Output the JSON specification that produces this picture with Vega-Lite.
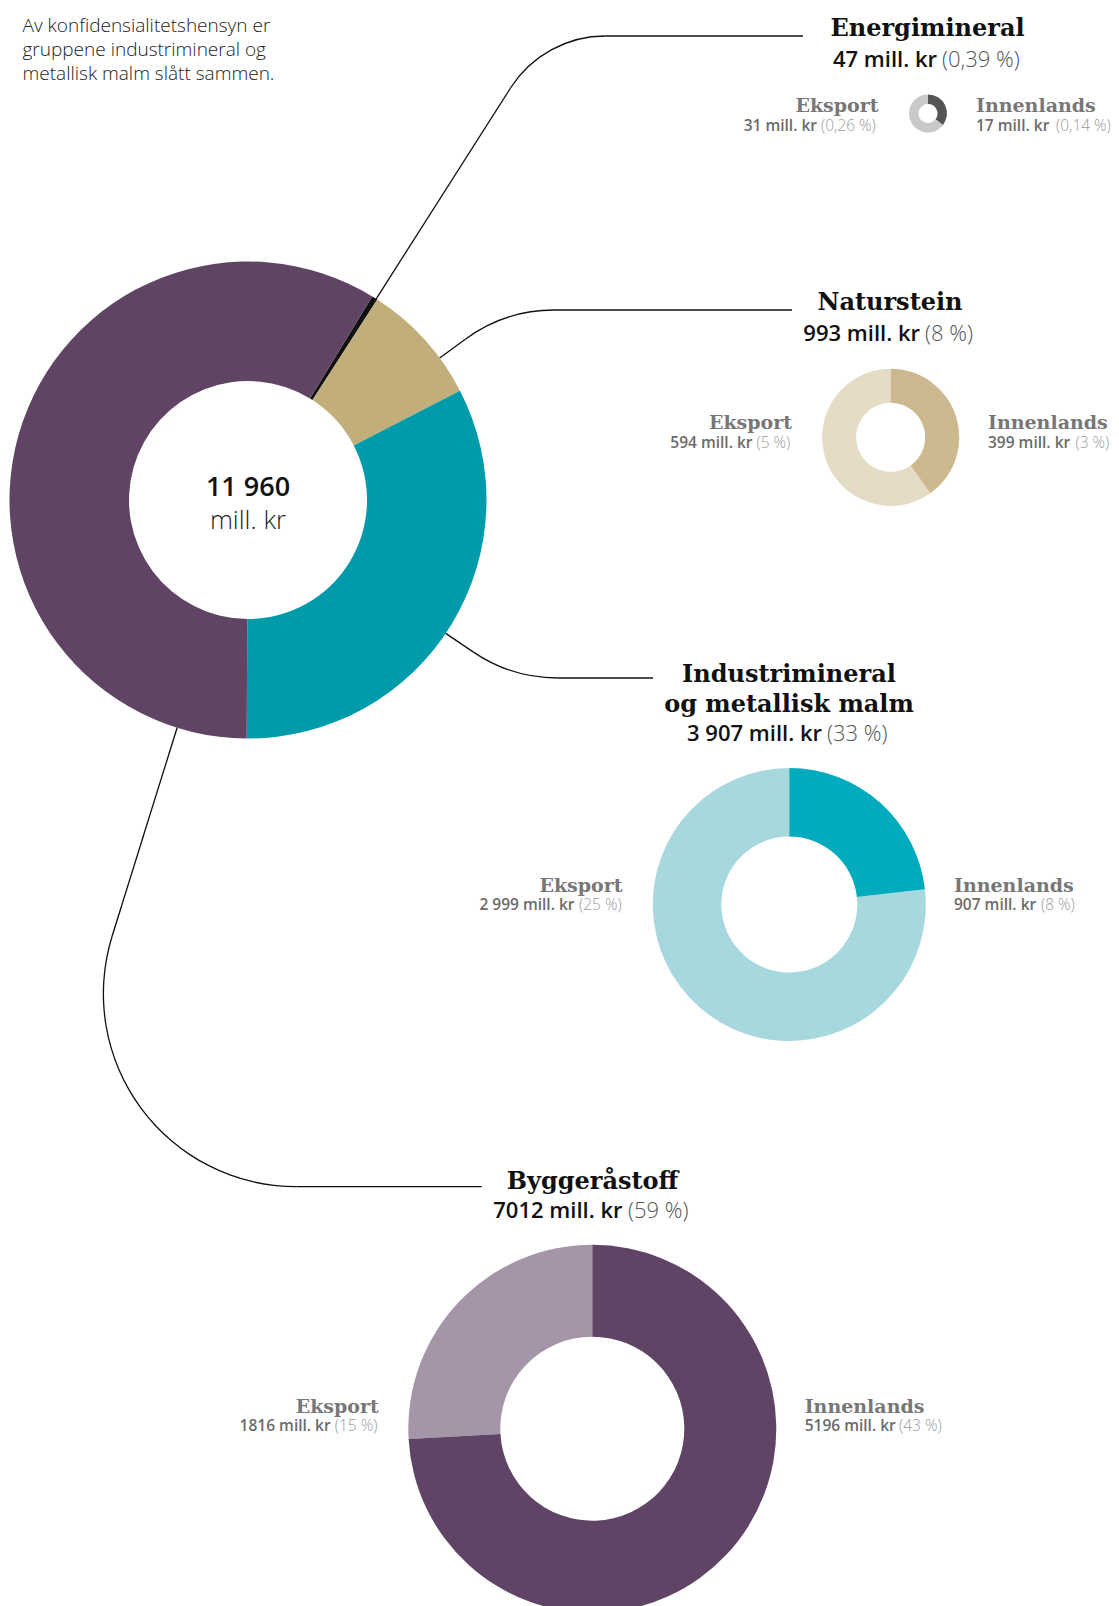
{
"$schema": "https://vega.github.io/schema/vega-lite/v6.json",
"width": 1119, "height": 1606, "padding": 0, "autosize": {"type": "none"},
"background": "white",
"config": {"view": {"stroke": null}},
"datasets": {
 "groups": [
  {"group": "Energimineral", "title": "Energimineral", "value": 47, "amount": "47 mill. kr", "share": "(0,39 %)"},
  {"group": "Naturstein", "title": "Naturstein", "value": 993, "amount": "993 mill. kr", "share": "(8 %)"},
  {"group": "Industrimineral og metallisk malm", "title": "Industrimineral\nog metallisk malm", "value": 3907, "amount": "3 907 mill. kr", "share": "(33 %)"},
  {"group": "Byggeråstoff", "title": "Byggeråstoff", "value": 7012, "amount": "7012 mill. kr", "share": "(59 %)"}
 ],
 "parts": [
  {"group": "Energimineral", "part": "Eksport", "value": 31, "amount": "31 mill. kr", "share": "(0,26 %)"},
  {"group": "Energimineral", "part": "Innenlands", "value": 17, "amount": "17 mill. kr", "share": "(0,14 %)"},
  {"group": "Naturstein", "part": "Eksport", "value": 594, "amount": "594 mill. kr", "share": "(5 %)"},
  {"group": "Naturstein", "part": "Innenlands", "value": 399, "amount": "399 mill. kr", "share": "(3 %)"},
  {"group": "Industrimineral og metallisk malm", "part": "Eksport", "value": 2999, "amount": "2 999 mill. kr", "share": "(25 %)"},
  {"group": "Industrimineral og metallisk malm", "part": "Innenlands", "value": 907, "amount": "907 mill. kr", "share": "(8 %)"},
  {"group": "Byggeråstoff", "part": "Eksport", "value": 1816, "amount": "1816 mill. kr", "share": "(15 %)"},
  {"group": "Byggeråstoff", "part": "Innenlands", "value": 5196, "amount": "5196 mill. kr", "share": "(43 %)"}
 ],
 "total": [{"amount": "11 960", "unit": "mill. kr"}],
 "note": [{"text": "Av konfidensialitetshensyn er\ngruppene industrimineral og\nmetallisk malm slått sammen."}]
},
"layer": [
 {"data": {"name": "groups"}, "transform": [{"calculate": "indexof(['Energimineral','Naturstein','Industrimineral og metallisk malm','Byggeråstoff'], datum.group)", "as": "rank"}],
  "mark": {"type": "arc", "innerRadius": 119, "outerRadius": 238.5},
  "encoding": {"x": {"datum": 248, "type": "quantitative", "scale": {"domain": [0, 1119], "nice": false, "zero": false}, "axis": null}, "y": {"datum": 500, "type": "quantitative", "scale": {"domain": [0, 1606], "nice": false, "zero": false, "reverse": true}, "axis": null},
   "theta": {"field": "value", "type": "quantitative", "stack": true, "scale": {"range": [0.548, 6.8312]}},
   "order": {"field": "rank", "type": "quantitative"},
   "color": {"field": "group", "type": "nominal", "scale": {"domain": ["Energimineral", "Naturstein", "Industrimineral og metallisk malm", "Byggeråstoff"], "range": ["#111111", "#c2ae7a", "#009bab", "#5f4463"]}, "legend": null}}},
 {"data": {"name": "parts"}, "transform": [{"filter": "datum.group == 'Energimineral'"}],
  "mark": {"type": "arc", "innerRadius": 9.5, "outerRadius": 19},
  "encoding": {"x": {"datum": 928, "type": "quantitative", "scale": {"domain": [0, 1119], "nice": false, "zero": false}, "axis": null}, "y": {"datum": 113.5, "type": "quantitative", "scale": {"domain": [0, 1606], "nice": false, "zero": false, "reverse": true}, "axis": null},
   "theta": {"field": "value", "type": "quantitative", "stack": true},
   "order": {"field": "part", "sort": "descending"},
   "color": {"field": "part", "type": "nominal", "scale": {"domain": ["Innenlands", "Eksport"], "range": ["#555555", "#c9c9c9"]}, "legend": null}}},
 {"data": {"name": "parts"}, "transform": [{"filter": "datum.group == 'Naturstein'"}],
  "mark": {"type": "arc", "innerRadius": 34.5, "outerRadius": 68.6},
  "encoding": {"x": {"datum": 890.7, "type": "quantitative", "scale": {"domain": [0, 1119], "nice": false, "zero": false}, "axis": null}, "y": {"datum": 437.3, "type": "quantitative", "scale": {"domain": [0, 1606], "nice": false, "zero": false, "reverse": true}, "axis": null},
   "theta": {"field": "value", "type": "quantitative", "stack": true},
   "order": {"field": "part", "sort": "descending"},
   "color": {"field": "part", "type": "nominal", "scale": {"domain": ["Innenlands", "Eksport"], "range": ["#ccb98f", "#e5dcc6"]}, "legend": null}}},
 {"data": {"name": "parts"}, "transform": [{"filter": "datum.group == 'Industrimineral og metallisk malm'"}],
  "mark": {"type": "arc", "innerRadius": 68, "outerRadius": 136.5},
  "encoding": {"x": {"datum": 789.3, "type": "quantitative", "scale": {"domain": [0, 1119], "nice": false, "zero": false}, "axis": null}, "y": {"datum": 904.5, "type": "quantitative", "scale": {"domain": [0, 1606], "nice": false, "zero": false, "reverse": true}, "axis": null},
   "theta": {"field": "value", "type": "quantitative", "stack": true},
   "order": {"field": "part", "sort": "descending"},
   "color": {"field": "part", "type": "nominal", "scale": {"domain": ["Innenlands", "Eksport"], "range": ["#00abbd", "#a6d8de"]}, "legend": null}}},
 {"data": {"name": "parts"}, "transform": [{"filter": "datum.group == 'Byggeråstoff'"}],
  "mark": {"type": "arc", "innerRadius": 92, "outerRadius": 184},
  "encoding": {"x": {"datum": 592.3, "type": "quantitative", "scale": {"domain": [0, 1119], "nice": false, "zero": false}, "axis": null}, "y": {"datum": 1428.7, "type": "quantitative", "scale": {"domain": [0, 1606], "nice": false, "zero": false, "reverse": true}, "axis": null},
   "theta": {"field": "value", "type": "quantitative", "stack": true},
   "order": {"field": "part", "sort": "descending"},
   "color": {"field": "part", "type": "nominal", "scale": {"domain": ["Innenlands", "Eksport"], "range": ["#5f4465", "#a495a8"]}, "legend": null}}},

 {"data": {"name": "groups"}, "transform": [{"filter": "datum.group == 'Energimineral'"}], "mark": {"type": "rule", "color": "#111", "strokeWidth": 1.3},
  "encoding": {"x": {"datum": 375.9, "type": "quantitative", "scale": {"domain": [0, 1119], "nice": false, "zero": false}, "axis": null}, "y": {"datum": 299.3, "type": "quantitative", "scale": {"domain": [0, 1606], "nice": false, "zero": false, "reverse": true}, "axis": null}, "x2": {"datum": 510.5}, "y2": {"datum": 88}}},
 {"data": {"name": "groups"}, "transform": [{"filter": "datum.group == 'Energimineral'"}], "mark": {"type": "arc", "innerRadius": 111.75, "outerRadius": 113.05, "theta": -1.0036, "theta2": 0, "color": "#111"},
  "encoding": {"x": {"datum": 605.3, "type": "quantitative", "scale": {"domain": [0, 1119], "nice": false, "zero": false}, "axis": null}, "y": {"datum": 148.4, "type": "quantitative", "scale": {"domain": [0, 1606], "nice": false, "zero": false, "reverse": true}, "axis": null}}},
 {"data": {"name": "groups"}, "transform": [{"filter": "datum.group == 'Energimineral'"}], "mark": {"type": "rule", "color": "#111", "strokeWidth": 1.3},
  "encoding": {"x": {"datum": 605.3, "type": "quantitative", "scale": {"domain": [0, 1119], "nice": false, "zero": false}, "axis": null}, "y": {"datum": 36, "type": "quantitative", "scale": {"domain": [0, 1606], "nice": false, "zero": false, "reverse": true}, "axis": null}, "x2": {"datum": 803}, "y2": {"datum": 36}}},

 {"data": {"name": "groups"}, "transform": [{"filter": "datum.group == 'Naturstein'"}], "mark": {"type": "rule", "color": "#111", "strokeWidth": 1.3},
  "encoding": {"x": {"datum": 439.7, "type": "quantitative", "scale": {"domain": [0, 1119], "nice": false, "zero": false}, "axis": null}, "y": {"datum": 358.1, "type": "quantitative", "scale": {"domain": [0, 1606], "nice": false, "zero": false, "reverse": true}, "axis": null}, "x2": {"datum": 465.0}, "y2": {"datum": 339.4}}},
 {"data": {"name": "groups"}, "transform": [{"filter": "datum.group == 'Naturstein'"}], "mark": {"type": "arc", "innerRadius": 149.35, "outerRadius": 150.65, "theta": -0.637, "theta2": 0, "color": "#111"},
  "encoding": {"x": {"datum": 554.2, "type": "quantitative", "scale": {"domain": [0, 1119], "nice": false, "zero": false}, "axis": null}, "y": {"datum": 460.0, "type": "quantitative", "scale": {"domain": [0, 1606], "nice": false, "zero": false, "reverse": true}, "axis": null}}},
 {"data": {"name": "groups"}, "transform": [{"filter": "datum.group == 'Naturstein'"}], "mark": {"type": "rule", "color": "#111", "strokeWidth": 1.3},
  "encoding": {"x": {"datum": 554.2, "type": "quantitative", "scale": {"domain": [0, 1119], "nice": false, "zero": false}, "axis": null}, "y": {"datum": 310, "type": "quantitative", "scale": {"domain": [0, 1606], "nice": false, "zero": false, "reverse": true}, "axis": null}, "x2": {"datum": 792}, "y2": {"datum": 310}}},

 {"data": {"name": "groups"}, "transform": [{"filter": "datum.group == 'Industrimineral og metallisk malm'"}], "mark": {"type": "rule", "color": "#111", "strokeWidth": 1.3},
  "encoding": {"x": {"datum": 445.7, "type": "quantitative", "scale": {"domain": [0, 1119], "nice": false, "zero": false}, "axis": null}, "y": {"datum": 633.4, "type": "quantitative", "scale": {"domain": [0, 1606], "nice": false, "zero": false, "reverse": true}, "axis": null}, "x2": {"datum": 473.8}, "y2": {"datum": 652.35}}},
 {"data": {"name": "groups"}, "transform": [{"filter": "datum.group == 'Industrimineral og metallisk malm'"}], "mark": {"type": "arc", "innerRadius": 149.35, "outerRadius": 150.65, "theta": 3.1416, "theta2": 3.735, "color": "#111"},
  "encoding": {"x": {"datum": 557.7, "type": "quantitative", "scale": {"domain": [0, 1119], "nice": false, "zero": false}, "axis": null}, "y": {"datum": 528, "type": "quantitative", "scale": {"domain": [0, 1606], "nice": false, "zero": false, "reverse": true}, "axis": null}}},
 {"data": {"name": "groups"}, "transform": [{"filter": "datum.group == 'Industrimineral og metallisk malm'"}], "mark": {"type": "rule", "color": "#111", "strokeWidth": 1.3},
  "encoding": {"x": {"datum": 557.7, "type": "quantitative", "scale": {"domain": [0, 1119], "nice": false, "zero": false}, "axis": null}, "y": {"datum": 678, "type": "quantitative", "scale": {"domain": [0, 1606], "nice": false, "zero": false, "reverse": true}, "axis": null}, "x2": {"datum": 653}, "y2": {"datum": 678}}},

 {"data": {"name": "groups"}, "transform": [{"filter": "datum.group == 'Byggeråstoff'"}], "mark": {"type": "rule", "color": "#111", "strokeWidth": 1.3},
  "encoding": {"x": {"datum": 177.1, "type": "quantitative", "scale": {"domain": [0, 1119], "nice": false, "zero": false}, "axis": null}, "y": {"datum": 727.7, "type": "quantitative", "scale": {"domain": [0, 1606], "nice": false, "zero": false, "reverse": true}, "axis": null}, "x2": {"datum": 112.1}, "y2": {"datum": 936.3}}},
 {"data": {"name": "groups"}, "transform": [{"filter": "datum.group == 'Byggeråstoff'"}], "mark": {"type": "arc", "innerRadius": 192.35, "outerRadius": 193.65, "theta": -3.1416, "theta2": -1.2689, "color": "#111"},
  "encoding": {"x": {"datum": 296.4, "type": "quantitative", "scale": {"domain": [0, 1119], "nice": false, "zero": false}, "axis": null}, "y": {"datum": 993.7, "type": "quantitative", "scale": {"domain": [0, 1606], "nice": false, "zero": false, "reverse": true}, "axis": null}}},
 {"data": {"name": "groups"}, "transform": [{"filter": "datum.group == 'Byggeråstoff'"}], "mark": {"type": "rule", "color": "#111", "strokeWidth": 1.3},
  "encoding": {"x": {"datum": 296.4, "type": "quantitative", "scale": {"domain": [0, 1119], "nice": false, "zero": false}, "axis": null}, "y": {"datum": 1186.7, "type": "quantitative", "scale": {"domain": [0, 1606], "nice": false, "zero": false, "reverse": true}, "axis": null}, "x2": {"datum": 481.7}, "y2": {"datum": 1186.7}}},

 {"data": {"name": "note"}, "mark": {"type": "text", "font": "Open Sans", "fontSize": 19, "fontWeight": 300, "color": "#222", "align": "left", "baseline": "alphabetic", "lineBreak": "\n", "lineHeight": 24},
  "encoding": {"x": {"datum": 22.5, "type": "quantitative", "scale": {"domain": [0, 1119], "nice": false, "zero": false}, "axis": null}, "y": {"datum": 32, "type": "quantitative", "scale": {"domain": [0, 1606], "nice": false, "zero": false, "reverse": true}, "axis": null}, "text": {"field": "text"}}},
 {"data": {"name": "total"}, "mark": {"type": "text", "font": "Open Sans", "fontSize": 27, "fontWeight": 600, "color": "#111", "align": "center", "baseline": "alphabetic"},
  "encoding": {"x": {"datum": 248, "type": "quantitative", "scale": {"domain": [0, 1119], "nice": false, "zero": false}, "axis": null}, "y": {"datum": 496, "type": "quantitative", "scale": {"domain": [0, 1606], "nice": false, "zero": false, "reverse": true}, "axis": null}, "text": {"field": "amount"}}},
 {"data": {"name": "total"}, "mark": {"type": "text", "font": "Open Sans", "fontSize": 26, "fontWeight": 300, "color": "#222", "align": "center", "baseline": "alphabetic"},
  "encoding": {"x": {"datum": 248, "type": "quantitative", "scale": {"domain": [0, 1119], "nice": false, "zero": false}, "axis": null}, "y": {"datum": 528.5, "type": "quantitative", "scale": {"domain": [0, 1606], "nice": false, "zero": false, "reverse": true}, "axis": null}, "text": {"field": "unit"}}},

 {"data": {"name": "groups"}, "transform": [{"filter": "datum.group == 'Energimineral'"}], "mark": {"type": "text", "font": "DejaVu Serif", "fontSize": 24, "fontWeight": "bold", "color": "#111", "align": "center", "baseline": "alphabetic", "lineBreak": "\n"},
  "encoding": {"x": {"datum": 927.5, "type": "quantitative", "scale": {"domain": [0, 1119], "nice": false, "zero": false}, "axis": null}, "y": {"datum": 36, "type": "quantitative", "scale": {"domain": [0, 1606], "nice": false, "zero": false, "reverse": true}, "axis": null}, "text": {"field": "title"}}},
 {"data": {"name": "groups"}, "transform": [{"filter": "datum.group == 'Naturstein'"}], "mark": {"type": "text", "font": "DejaVu Serif", "fontSize": 24, "fontWeight": "bold", "color": "#111", "align": "center", "baseline": "alphabetic", "lineBreak": "\n"},
  "encoding": {"x": {"datum": 890, "type": "quantitative", "scale": {"domain": [0, 1119], "nice": false, "zero": false}, "axis": null}, "y": {"datum": 310, "type": "quantitative", "scale": {"domain": [0, 1606], "nice": false, "zero": false, "reverse": true}, "axis": null}, "text": {"field": "title"}}},
 {"data": {"name": "groups"}, "transform": [{"filter": "datum.group == 'Industrimineral og metallisk malm'"}], "mark": {"type": "text", "font": "DejaVu Serif", "fontSize": 24, "fontWeight": "bold", "color": "#111", "align": "center", "baseline": "alphabetic", "lineBreak": "\n", "lineHeight": 30.5},
  "encoding": {"x": {"datum": 789, "type": "quantitative", "scale": {"domain": [0, 1119], "nice": false, "zero": false}, "axis": null}, "y": {"datum": 681.5, "type": "quantitative", "scale": {"domain": [0, 1606], "nice": false, "zero": false, "reverse": true}, "axis": null}, "text": {"field": "title"}}},
 {"data": {"name": "groups"}, "transform": [{"filter": "datum.group == 'Byggeråstoff'"}], "mark": {"type": "text", "font": "DejaVu Serif", "fontSize": 24, "fontWeight": "bold", "color": "#111", "align": "center", "baseline": "alphabetic", "lineBreak": "\n"},
  "encoding": {"x": {"datum": 592.5, "type": "quantitative", "scale": {"domain": [0, 1119], "nice": false, "zero": false}, "axis": null}, "y": {"datum": 1188.5, "type": "quantitative", "scale": {"domain": [0, 1606], "nice": false, "zero": false, "reverse": true}, "axis": null}, "text": {"field": "title"}}},

 {"data": {"name": "groups"}, "transform": [{"filter": "datum.group == 'Energimineral'"}], "mark": {"type": "text", "font": "Open Sans", "fontSize": 22, "fontWeight": 600, "color": "#111", "align": "right", "baseline": "alphabetic"},
  "encoding": {"x": {"datum": 937, "type": "quantitative", "scale": {"domain": [0, 1119], "nice": false, "zero": false}, "axis": null}, "y": {"datum": 67, "type": "quantitative", "scale": {"domain": [0, 1606], "nice": false, "zero": false, "reverse": true}, "axis": null}, "text": {"field": "amount"}}},
 {"data": {"name": "groups"}, "transform": [{"filter": "datum.group == 'Energimineral'"}], "mark": {"type": "text", "font": "Open Sans", "fontSize": 22, "fontWeight": 300, "color": "#555", "align": "left", "baseline": "alphabetic"},
  "encoding": {"x": {"datum": 942, "type": "quantitative", "scale": {"domain": [0, 1119], "nice": false, "zero": false}, "axis": null}, "y": {"datum": 67, "type": "quantitative", "scale": {"domain": [0, 1606], "nice": false, "zero": false, "reverse": true}, "axis": null}, "text": {"field": "share"}}},
 {"data": {"name": "groups"}, "transform": [{"filter": "datum.group == 'Naturstein'"}], "mark": {"type": "text", "font": "Open Sans", "fontSize": 22, "fontWeight": 600, "color": "#111", "align": "right", "baseline": "alphabetic"},
  "encoding": {"x": {"datum": 920, "type": "quantitative", "scale": {"domain": [0, 1119], "nice": false, "zero": false}, "axis": null}, "y": {"datum": 341, "type": "quantitative", "scale": {"domain": [0, 1606], "nice": false, "zero": false, "reverse": true}, "axis": null}, "text": {"field": "amount"}}},
 {"data": {"name": "groups"}, "transform": [{"filter": "datum.group == 'Naturstein'"}], "mark": {"type": "text", "font": "Open Sans", "fontSize": 22, "fontWeight": 300, "color": "#555", "align": "left", "baseline": "alphabetic"},
  "encoding": {"x": {"datum": 925, "type": "quantitative", "scale": {"domain": [0, 1119], "nice": false, "zero": false}, "axis": null}, "y": {"datum": 341, "type": "quantitative", "scale": {"domain": [0, 1606], "nice": false, "zero": false, "reverse": true}, "axis": null}, "text": {"field": "share"}}},
 {"data": {"name": "groups"}, "transform": [{"filter": "datum.group == 'Industrimineral og metallisk malm'"}], "mark": {"type": "text", "font": "Open Sans", "fontSize": 22, "fontWeight": 600, "color": "#111", "align": "right", "baseline": "alphabetic"},
  "encoding": {"x": {"datum": 822, "type": "quantitative", "scale": {"domain": [0, 1119], "nice": false, "zero": false}, "axis": null}, "y": {"datum": 741, "type": "quantitative", "scale": {"domain": [0, 1606], "nice": false, "zero": false, "reverse": true}, "axis": null}, "text": {"field": "amount"}}},
 {"data": {"name": "groups"}, "transform": [{"filter": "datum.group == 'Industrimineral og metallisk malm'"}], "mark": {"type": "text", "font": "Open Sans", "fontSize": 22, "fontWeight": 300, "color": "#555", "align": "left", "baseline": "alphabetic"},
  "encoding": {"x": {"datum": 827, "type": "quantitative", "scale": {"domain": [0, 1119], "nice": false, "zero": false}, "axis": null}, "y": {"datum": 741, "type": "quantitative", "scale": {"domain": [0, 1606], "nice": false, "zero": false, "reverse": true}, "axis": null}, "text": {"field": "share"}}},
 {"data": {"name": "groups"}, "transform": [{"filter": "datum.group == 'Byggeråstoff'"}], "mark": {"type": "text", "font": "Open Sans", "fontSize": 22, "fontWeight": 600, "color": "#111", "align": "right", "baseline": "alphabetic"},
  "encoding": {"x": {"datum": 622.5, "type": "quantitative", "scale": {"domain": [0, 1119], "nice": false, "zero": false}, "axis": null}, "y": {"datum": 1218, "type": "quantitative", "scale": {"domain": [0, 1606], "nice": false, "zero": false, "reverse": true}, "axis": null}, "text": {"field": "amount"}}},
 {"data": {"name": "groups"}, "transform": [{"filter": "datum.group == 'Byggeråstoff'"}], "mark": {"type": "text", "font": "Open Sans", "fontSize": 22, "fontWeight": 300, "color": "#555", "align": "left", "baseline": "alphabetic"},
  "encoding": {"x": {"datum": 628, "type": "quantitative", "scale": {"domain": [0, 1119], "nice": false, "zero": false}, "axis": null}, "y": {"datum": 1218, "type": "quantitative", "scale": {"domain": [0, 1606], "nice": false, "zero": false, "reverse": true}, "axis": null}, "text": {"field": "share"}}},

 {"data": {"name": "parts"}, "transform": [{"filter": "datum.group == 'Energimineral' && datum.part == 'Eksport'"}], "mark": {"type": "text", "font": "DejaVu Serif", "fontSize": 19, "fontWeight": "bold", "color": "#777", "align": "right", "baseline": "alphabetic"},
  "encoding": {"x": {"datum": 878.5, "type": "quantitative", "scale": {"domain": [0, 1119], "nice": false, "zero": false}, "axis": null}, "y": {"datum": 111.7, "type": "quantitative", "scale": {"domain": [0, 1606], "nice": false, "zero": false, "reverse": true}, "axis": null}, "text": {"field": "part"}}},
 {"data": {"name": "parts"}, "transform": [{"filter": "datum.group == 'Energimineral' && datum.part == 'Eksport'"}], "mark": {"type": "text", "font": "Open Sans", "fontSize": 15.5, "fontWeight": 600, "color": "#6b6b6b", "align": "right", "baseline": "alphabetic"},
  "encoding": {"x": {"datum": 817, "type": "quantitative", "scale": {"domain": [0, 1119], "nice": false, "zero": false}, "axis": null}, "y": {"datum": 130.5, "type": "quantitative", "scale": {"domain": [0, 1606], "nice": false, "zero": false, "reverse": true}, "axis": null}, "text": {"field": "amount"}}},
 {"data": {"name": "parts"}, "transform": [{"filter": "datum.group == 'Energimineral' && datum.part == 'Eksport'"}], "mark": {"type": "text", "font": "Open Sans", "fontSize": 15.5, "fontWeight": 300, "color": "#9b9b9b", "align": "left", "baseline": "alphabetic"},
  "encoding": {"x": {"datum": 821, "type": "quantitative", "scale": {"domain": [0, 1119], "nice": false, "zero": false}, "axis": null}, "y": {"datum": 130.5, "type": "quantitative", "scale": {"domain": [0, 1606], "nice": false, "zero": false, "reverse": true}, "axis": null}, "text": {"field": "share"}}},
 {"data": {"name": "parts"}, "transform": [{"filter": "datum.group == 'Energimineral' && datum.part == 'Innenlands'"}], "mark": {"type": "text", "font": "DejaVu Serif", "fontSize": 19, "fontWeight": "bold", "color": "#777", "align": "left", "baseline": "alphabetic"},
  "encoding": {"x": {"datum": 976, "type": "quantitative", "scale": {"domain": [0, 1119], "nice": false, "zero": false}, "axis": null}, "y": {"datum": 111.7, "type": "quantitative", "scale": {"domain": [0, 1606], "nice": false, "zero": false, "reverse": true}, "axis": null}, "text": {"field": "part"}}},
 {"data": {"name": "parts"}, "transform": [{"filter": "datum.group == 'Energimineral' && datum.part == 'Innenlands'"}], "mark": {"type": "text", "font": "Open Sans", "fontSize": 15.5, "fontWeight": 600, "color": "#6b6b6b", "align": "left", "baseline": "alphabetic"},
  "encoding": {"x": {"datum": 976, "type": "quantitative", "scale": {"domain": [0, 1119], "nice": false, "zero": false}, "axis": null}, "y": {"datum": 130.5, "type": "quantitative", "scale": {"domain": [0, 1606], "nice": false, "zero": false, "reverse": true}, "axis": null}, "text": {"field": "amount"}}},
 {"data": {"name": "parts"}, "transform": [{"filter": "datum.group == 'Energimineral' && datum.part == 'Innenlands'"}], "mark": {"type": "text", "font": "Open Sans", "fontSize": 15.5, "fontWeight": 300, "color": "#9b9b9b", "align": "left", "baseline": "alphabetic"},
  "encoding": {"x": {"datum": 1056, "type": "quantitative", "scale": {"domain": [0, 1119], "nice": false, "zero": false}, "axis": null}, "y": {"datum": 130.5, "type": "quantitative", "scale": {"domain": [0, 1606], "nice": false, "zero": false, "reverse": true}, "axis": null}, "text": {"field": "share"}}},

 {"data": {"name": "parts"}, "transform": [{"filter": "datum.group == 'Naturstein' && datum.part == 'Eksport'"}], "mark": {"type": "text", "font": "DejaVu Serif", "fontSize": 19, "fontWeight": "bold", "color": "#777", "align": "right", "baseline": "alphabetic"},
  "encoding": {"x": {"datum": 792, "type": "quantitative", "scale": {"domain": [0, 1119], "nice": false, "zero": false}, "axis": null}, "y": {"datum": 429, "type": "quantitative", "scale": {"domain": [0, 1606], "nice": false, "zero": false, "reverse": true}, "axis": null}, "text": {"field": "part"}}},
 {"data": {"name": "parts"}, "transform": [{"filter": "datum.group == 'Naturstein' && datum.part == 'Eksport'"}], "mark": {"type": "text", "font": "Open Sans", "fontSize": 15.5, "fontWeight": 600, "color": "#6b6b6b", "align": "right", "baseline": "alphabetic"},
  "encoding": {"x": {"datum": 752.5, "type": "quantitative", "scale": {"domain": [0, 1119], "nice": false, "zero": false}, "axis": null}, "y": {"datum": 448, "type": "quantitative", "scale": {"domain": [0, 1606], "nice": false, "zero": false, "reverse": true}, "axis": null}, "text": {"field": "amount"}}},
 {"data": {"name": "parts"}, "transform": [{"filter": "datum.group == 'Naturstein' && datum.part == 'Eksport'"}], "mark": {"type": "text", "font": "Open Sans", "fontSize": 15.5, "fontWeight": 300, "color": "#9b9b9b", "align": "left", "baseline": "alphabetic"},
  "encoding": {"x": {"datum": 756.5, "type": "quantitative", "scale": {"domain": [0, 1119], "nice": false, "zero": false}, "axis": null}, "y": {"datum": 448, "type": "quantitative", "scale": {"domain": [0, 1606], "nice": false, "zero": false, "reverse": true}, "axis": null}, "text": {"field": "share"}}},
 {"data": {"name": "parts"}, "transform": [{"filter": "datum.group == 'Naturstein' && datum.part == 'Innenlands'"}], "mark": {"type": "text", "font": "DejaVu Serif", "fontSize": 19, "fontWeight": "bold", "color": "#777", "align": "left", "baseline": "alphabetic"},
  "encoding": {"x": {"datum": 988, "type": "quantitative", "scale": {"domain": [0, 1119], "nice": false, "zero": false}, "axis": null}, "y": {"datum": 429, "type": "quantitative", "scale": {"domain": [0, 1606], "nice": false, "zero": false, "reverse": true}, "axis": null}, "text": {"field": "part"}}},
 {"data": {"name": "parts"}, "transform": [{"filter": "datum.group == 'Naturstein' && datum.part == 'Innenlands'"}], "mark": {"type": "text", "font": "Open Sans", "fontSize": 15.5, "fontWeight": 600, "color": "#6b6b6b", "align": "left", "baseline": "alphabetic"},
  "encoding": {"x": {"datum": 988, "type": "quantitative", "scale": {"domain": [0, 1119], "nice": false, "zero": false}, "axis": null}, "y": {"datum": 448, "type": "quantitative", "scale": {"domain": [0, 1606], "nice": false, "zero": false, "reverse": true}, "axis": null}, "text": {"field": "amount"}}},
 {"data": {"name": "parts"}, "transform": [{"filter": "datum.group == 'Naturstein' && datum.part == 'Innenlands'"}], "mark": {"type": "text", "font": "Open Sans", "fontSize": 15.5, "fontWeight": 300, "color": "#9b9b9b", "align": "left", "baseline": "alphabetic"},
  "encoding": {"x": {"datum": 1075.5, "type": "quantitative", "scale": {"domain": [0, 1119], "nice": false, "zero": false}, "axis": null}, "y": {"datum": 448, "type": "quantitative", "scale": {"domain": [0, 1606], "nice": false, "zero": false, "reverse": true}, "axis": null}, "text": {"field": "share"}}},

 {"data": {"name": "parts"}, "transform": [{"filter": "datum.group == 'Industrimineral og metallisk malm' && datum.part == 'Eksport'"}], "mark": {"type": "text", "font": "DejaVu Serif", "fontSize": 19, "fontWeight": "bold", "color": "#777", "align": "right", "baseline": "alphabetic"},
  "encoding": {"x": {"datum": 622.5, "type": "quantitative", "scale": {"domain": [0, 1119], "nice": false, "zero": false}, "axis": null}, "y": {"datum": 891.7, "type": "quantitative", "scale": {"domain": [0, 1606], "nice": false, "zero": false, "reverse": true}, "axis": null}, "text": {"field": "part"}}},
 {"data": {"name": "parts"}, "transform": [{"filter": "datum.group == 'Industrimineral og metallisk malm' && datum.part == 'Eksport'"}], "mark": {"type": "text", "font": "Open Sans", "fontSize": 15.5, "fontWeight": 600, "color": "#6b6b6b", "align": "right", "baseline": "alphabetic"},
  "encoding": {"x": {"datum": 574.5, "type": "quantitative", "scale": {"domain": [0, 1119], "nice": false, "zero": false}, "axis": null}, "y": {"datum": 910, "type": "quantitative", "scale": {"domain": [0, 1606], "nice": false, "zero": false, "reverse": true}, "axis": null}, "text": {"field": "amount"}}},
 {"data": {"name": "parts"}, "transform": [{"filter": "datum.group == 'Industrimineral og metallisk malm' && datum.part == 'Eksport'"}], "mark": {"type": "text", "font": "Open Sans", "fontSize": 15.5, "fontWeight": 300, "color": "#9b9b9b", "align": "left", "baseline": "alphabetic"},
  "encoding": {"x": {"datum": 579, "type": "quantitative", "scale": {"domain": [0, 1119], "nice": false, "zero": false}, "axis": null}, "y": {"datum": 910, "type": "quantitative", "scale": {"domain": [0, 1606], "nice": false, "zero": false, "reverse": true}, "axis": null}, "text": {"field": "share"}}},
 {"data": {"name": "parts"}, "transform": [{"filter": "datum.group == 'Industrimineral og metallisk malm' && datum.part == 'Innenlands'"}], "mark": {"type": "text", "font": "DejaVu Serif", "fontSize": 19, "fontWeight": "bold", "color": "#777", "align": "left", "baseline": "alphabetic"},
  "encoding": {"x": {"datum": 954, "type": "quantitative", "scale": {"domain": [0, 1119], "nice": false, "zero": false}, "axis": null}, "y": {"datum": 891.7, "type": "quantitative", "scale": {"domain": [0, 1606], "nice": false, "zero": false, "reverse": true}, "axis": null}, "text": {"field": "part"}}},
 {"data": {"name": "parts"}, "transform": [{"filter": "datum.group == 'Industrimineral og metallisk malm' && datum.part == 'Innenlands'"}], "mark": {"type": "text", "font": "Open Sans", "fontSize": 15.5, "fontWeight": 600, "color": "#6b6b6b", "align": "left", "baseline": "alphabetic"},
  "encoding": {"x": {"datum": 954, "type": "quantitative", "scale": {"domain": [0, 1119], "nice": false, "zero": false}, "axis": null}, "y": {"datum": 910, "type": "quantitative", "scale": {"domain": [0, 1606], "nice": false, "zero": false, "reverse": true}, "axis": null}, "text": {"field": "amount"}}},
 {"data": {"name": "parts"}, "transform": [{"filter": "datum.group == 'Industrimineral og metallisk malm' && datum.part == 'Innenlands'"}], "mark": {"type": "text", "font": "Open Sans", "fontSize": 15.5, "fontWeight": 300, "color": "#9b9b9b", "align": "left", "baseline": "alphabetic"},
  "encoding": {"x": {"datum": 1041, "type": "quantitative", "scale": {"domain": [0, 1119], "nice": false, "zero": false}, "axis": null}, "y": {"datum": 910, "type": "quantitative", "scale": {"domain": [0, 1606], "nice": false, "zero": false, "reverse": true}, "axis": null}, "text": {"field": "share"}}},

 {"data": {"name": "parts"}, "transform": [{"filter": "datum.group == 'Byggeråstoff' && datum.part == 'Eksport'"}], "mark": {"type": "text", "font": "DejaVu Serif", "fontSize": 19, "fontWeight": "bold", "color": "#777", "align": "right", "baseline": "alphabetic"},
  "encoding": {"x": {"datum": 378.8, "type": "quantitative", "scale": {"domain": [0, 1119], "nice": false, "zero": false}, "axis": null}, "y": {"datum": 1412.8, "type": "quantitative", "scale": {"domain": [0, 1606], "nice": false, "zero": false, "reverse": true}, "axis": null}, "text": {"field": "part"}}},
 {"data": {"name": "parts"}, "transform": [{"filter": "datum.group == 'Byggeråstoff' && datum.part == 'Eksport'"}], "mark": {"type": "text", "font": "Open Sans", "fontSize": 15.5, "fontWeight": 600, "color": "#6b6b6b", "align": "right", "baseline": "alphabetic"},
  "encoding": {"x": {"datum": 330.7, "type": "quantitative", "scale": {"domain": [0, 1119], "nice": false, "zero": false}, "axis": null}, "y": {"datum": 1431.3, "type": "quantitative", "scale": {"domain": [0, 1606], "nice": false, "zero": false, "reverse": true}, "axis": null}, "text": {"field": "amount"}}},
 {"data": {"name": "parts"}, "transform": [{"filter": "datum.group == 'Byggeråstoff' && datum.part == 'Eksport'"}], "mark": {"type": "text", "font": "Open Sans", "fontSize": 15.5, "fontWeight": 300, "color": "#9b9b9b", "align": "left", "baseline": "alphabetic"},
  "encoding": {"x": {"datum": 334.8, "type": "quantitative", "scale": {"domain": [0, 1119], "nice": false, "zero": false}, "axis": null}, "y": {"datum": 1431.3, "type": "quantitative", "scale": {"domain": [0, 1606], "nice": false, "zero": false, "reverse": true}, "axis": null}, "text": {"field": "share"}}},
 {"data": {"name": "parts"}, "transform": [{"filter": "datum.group == 'Byggeråstoff' && datum.part == 'Innenlands'"}], "mark": {"type": "text", "font": "DejaVu Serif", "fontSize": 19, "fontWeight": "bold", "color": "#777", "align": "left", "baseline": "alphabetic"},
  "encoding": {"x": {"datum": 804.7, "type": "quantitative", "scale": {"domain": [0, 1119], "nice": false, "zero": false}, "axis": null}, "y": {"datum": 1412.8, "type": "quantitative", "scale": {"domain": [0, 1606], "nice": false, "zero": false, "reverse": true}, "axis": null}, "text": {"field": "part"}}},
 {"data": {"name": "parts"}, "transform": [{"filter": "datum.group == 'Byggeråstoff' && datum.part == 'Innenlands'"}], "mark": {"type": "text", "font": "Open Sans", "fontSize": 15.5, "fontWeight": 600, "color": "#6b6b6b", "align": "left", "baseline": "alphabetic"},
  "encoding": {"x": {"datum": 804.7, "type": "quantitative", "scale": {"domain": [0, 1119], "nice": false, "zero": false}, "axis": null}, "y": {"datum": 1431.3, "type": "quantitative", "scale": {"domain": [0, 1606], "nice": false, "zero": false, "reverse": true}, "axis": null}, "text": {"field": "amount"}}},
 {"data": {"name": "parts"}, "transform": [{"filter": "datum.group == 'Byggeråstoff' && datum.part == 'Innenlands'"}], "mark": {"type": "text", "font": "Open Sans", "fontSize": 15.5, "fontWeight": 300, "color": "#9b9b9b", "align": "left", "baseline": "alphabetic"},
  "encoding": {"x": {"datum": 899, "type": "quantitative", "scale": {"domain": [0, 1119], "nice": false, "zero": false}, "axis": null}, "y": {"datum": 1431.3, "type": "quantitative", "scale": {"domain": [0, 1606], "nice": false, "zero": false, "reverse": true}, "axis": null}, "text": {"field": "share"}}}
],
"resolve": {"scale": {"color": "independent", "theta": "independent"}}
}
